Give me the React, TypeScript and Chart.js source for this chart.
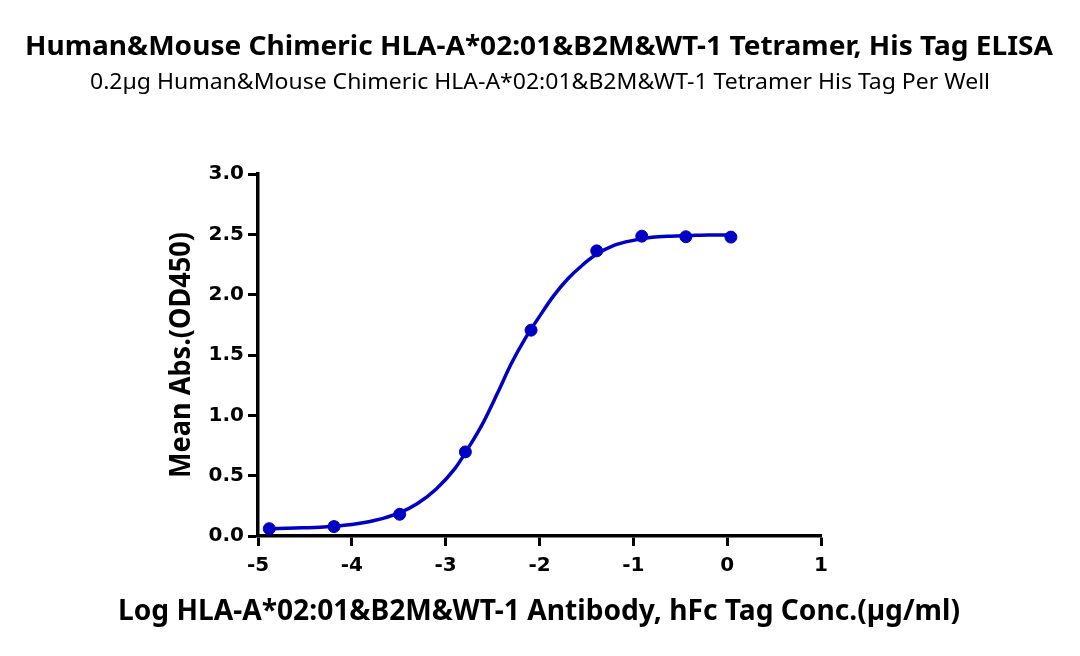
import React, { useEffect, useRef } from "react";
import { Chart, registerables } from "chart.js";

Chart.register(...registerables);

const TITLE = "Human&Mouse Chimeric HLA-A*02:01&B2M&WT-1 Tetramer, His Tag ELISA";
const SUBTITLE = "0.2µg Human&Mouse Chimeric HLA-A*02:01&B2M&WT-1 Tetramer His Tag Per Well";
const X_TITLE = "Log HLA-A*02:01&B2M&WT-1 Antibody, hFc Tag Conc.(µg/ml)";
const Y_TITLE = "Mean Abs.(OD450)";

// measured points (log conc, OD450)
const pointX = [-4.88, -4.19, -3.49, -2.79, -2.09, -1.39, -0.91, -0.44, 0.04];
const pointY = [0.061, 0.078, 0.18, 0.697, 1.706, 2.363, 2.485, 2.48, 2.477];

// fitted curve
const curveX = [-4.88, -4.6, -4.3, -4.0, -3.75, -3.5, -3.3, -3.1, -2.9, -2.75, -2.6, -2.45, -2.3, -2.15, -2.0, -1.85, -1.7, -1.55, -1.4, -1.2, -1.0, -0.8, -0.6, -0.4, -0.2, 0.04];
const curveY = [0.06, 0.066, 0.075, 0.095, 0.13, 0.19, 0.27, 0.39, 0.56, 0.74, 0.94, 1.18, 1.43, 1.64, 1.82, 1.99, 2.13, 2.24, 2.33, 2.41, 2.45, 2.475, 2.485, 2.49, 2.495, 2.495];

const X_MIN = -5;
const X_MAX = 1;
const Y_MIN = 0;
const Y_MAX = 3;

const BLUE = "#0000C4";

function fitText(ctx: CanvasRenderingContext2D, text: string, x: number, y: number, font: string, targetW: number, rotate = false) {
  ctx.save();
  ctx.font = font;
  ctx.fillStyle = "#000";
  const w = ctx.measureText(text).width;
  ctx.translate(x, y);
  if (rotate) ctx.rotate(-Math.PI / 2);
  ctx.scale(targetW / w, 1);
  ctx.textAlign = "center";
  ctx.textBaseline = "middle";
  ctx.fillText(text, 0, 0);
  ctx.restore();
}

const textPlugin = {
  id: "texts",
  afterDraw(chart: any) {
    const ctx = chart.ctx as CanvasRenderingContext2D;
    fitText(ctx, TITLE, 539, 47, "bold 27px 'Noto Sans'", 1028);
    fitText(ctx, SUBTITLE, 540, 83, "21px 'Noto Sans'", 900);
    fitText(ctx, X_TITLE, 539, 612, "bold 29px 'Noto Sans'", 842);
    fitText(ctx, Y_TITLE, 182, 355, "bold 29px 'Noto Sans'", 246, true);
  },
};

export default function App() {
  const ref = useRef<HTMLCanvasElement>(null);
  useEffect(() => {
    if (!ref.current) return;
    const tickFont = { family: "'DejaVu Sans'", weight: "bold" as const, size: 20 };
    const chart = new Chart(ref.current, {
      type: "scatter",
      data: {
        datasets: [
          {
            label: "fit",
            data: curveX.map((x, i) => ({ x, y: curveY[i] })),
            showLine: true,
            borderColor: BLUE,
            borderWidth: 3.5,
            pointRadius: 0,
            cubicInterpolationMode: "monotone",
          },
          {
            label: "points",
            data: pointX.map((x, i) => ({ x, y: pointY[i] })),
            showLine: false,
            backgroundColor: BLUE,
            borderColor: BLUE,
            pointRadius: 6,
          },
        ],
      },
      options: {
        animation: false,
        responsive: false,
        maintainAspectRatio: false,
        layout: { padding: { top: 174, left: 0, right: 259, bottom: 0 } },
        plugins: { legend: { display: false }, tooltip: { enabled: false }, title: { display: false } },
        scales: {
          x: {
            type: "linear",
            min: X_MIN,
            max: X_MAX,
            afterFit: (s: any) => { s.height = 120; },
            ticks: { stepSize: 1, color: "#000", font: tickFont, padding: 8 },
            grid: { drawOnChartArea: false, drawTicks: true, tickLength: 10, tickWidth: 3, tickColor: "#000", color: "#000" },
            border: { display: true, color: "#000", width: 3.5 },
          },
          y: {
            type: "linear",
            min: Y_MIN,
            max: Y_MAX,
            afterFit: (s: any) => { s.width = 258; },
            ticks: { stepSize: 0.5, color: "#000", font: tickFont, padding: 4, callback: (v: any) => Number(v).toFixed(1) },
            grid: { drawOnChartArea: false, drawTicks: true, tickLength: 10, tickWidth: 3, tickColor: "#000", color: "#000" },
            border: { display: true, color: "#000", width: 3.5 },
          },
        },
      },
      plugins: [textPlugin],
    });
    return () => chart.destroy();
  }, []);
  return (
    <div style={{ position: "fixed", left: 0, top: 0, width: 1080, height: 656, background: "#fff" }}>
      <canvas ref={ref} width={1080} height={656} style={{ width: 1080, height: 656 }} />
    </div>
  );
}
